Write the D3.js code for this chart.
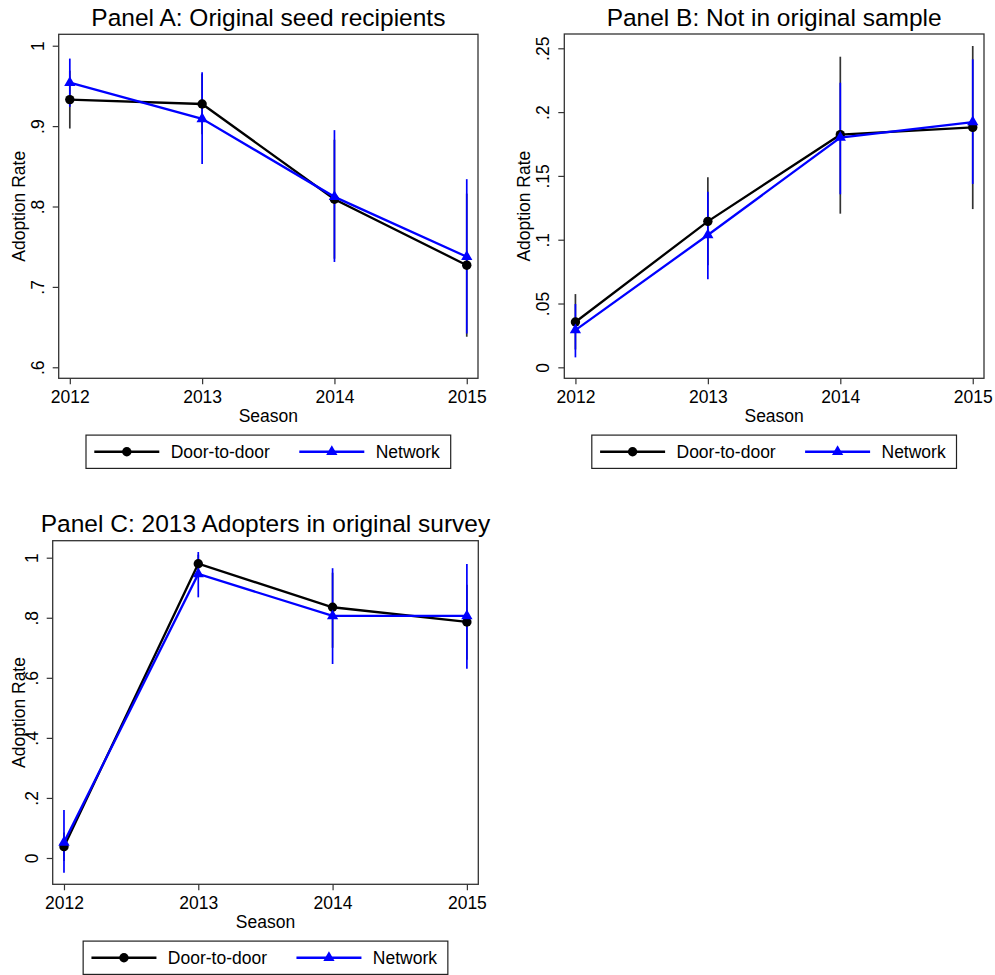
<!DOCTYPE html>
<html>
<head>
<meta charset="utf-8">
<script src="https://cdn.jsdelivr.net/npm/d3@7"></script>
<style>
  body { margin: 0; background: #fff; }
  svg text { font-family: "Liberation Sans", Arial, Helvetica, sans-serif; fill: #000; }
</style>
</head>
<body>
<svg id="chart" width="995" height="975"></svg>
<script>
// data
const seasons = [2012, 2013, 2014, 2015];
const seriesNames = ['Door-to-door', 'Network'];

// Panel A
const doorA = [0.933, 0.9275, 0.809, 0.727];
const doorALo = [0.897, 0.890, 0.735, 0.638];
const doorAHi = [0.969, 0.965, 0.883, 0.816];
const netA = [0.954, 0.909, 0.812, 0.7375];
const netALo = [0.924, 0.853, 0.731, 0.642];
const netAHi = [0.984, 0.967, 0.895, 0.834];
const ticksA = [0.6, 0.7, 0.8, 0.9, 1];
const tickLabelsA = ['.6', '.7', '.8', '.9', '1'];

// Panel B
const doorB = [0.0355, 0.1144, 0.1823, 0.188];
const doorBLo = [0.014, 0.080, 0.1204, 0.124];
const doorBHi = [0.0574, 0.149, 0.2434, 0.2518];
const netB = [0.0292, 0.1037, 0.180, 0.1922];
const netBLo = [0.0078, 0.069, 0.1356, 0.1437];
const netBHi = [0.0496, 0.1376, 0.223, 0.2414];
const ticksB = [0, 0.05, 0.1, 0.15, 0.2, 0.25];
const tickLabelsB = ['0', '.05', '.1', '.15', '.2', '.25'];

// Panel C
const doorC = [0.0377, 0.980, 0.835, 0.786];
const doorCLo = [-0.010, 0.950, 0.700, 0.660];
const doorCHi = [0.085, 1.010, 0.950, 0.910];
const netC = [0.052, 0.9457, 0.806, 0.806];
const netCLo = [-0.049, 0.868, 0.646, 0.630];
const netCHi = [0.160, 1.019, 0.965, 0.979];
const ticksC = [0, 0.2, 0.4, 0.6, 0.8, 1];
const tickLabelsC = ['0', '.2', '.4', '.6', '.8', '1'];

const svg = d3.select('#chart');

const panels = [
  {title: 'Panel A: Original seed recipients', x0: 58.7, x1: 478, y0: 34.3, y1: 378.3,
   yDom: [0.5863, 1.0142], ticks: ticksA, labels: tickLabelsA, yTitleOff: 34,
   door: doorA, doorLo: doorALo, doorHi: doorAHi, net: netA, netLo: netALo, netHi: netAHi},
  {title: 'Panel B: Not in original sample', x0: 564.3, x1: 984, y0: 34, y1: 378.3,
   yDom: [-0.0086, 0.2612], ticks: ticksB, labels: tickLabelsB, yTitleOff: 34,
   door: doorB, doorLo: doorBLo, doorHi: doorBHi, net: netB, netLo: netBLo, netHi: netBHi},
  {title: 'Panel C: 2013 Adopters in original survey', x0: 52.7, x1: 478.3, y0: 540.7, y1: 884.3,
   yDom: [-0.0876, 1.0566], ticks: ticksC, labels: tickLabelsC, yTitleOff: 28,
   door: doorC, doorLo: doorCLo, doorHi: doorCHi, net: netC, netLo: netCLo, netHi: netCHi}
];

const BLUE = '#0000ff';
const FS = 17.5;

function drawPanel(p) {
  const g = svg.append('g');
  const x = d3.scaleLinear().domain([2011.916, 2015.085]).range([p.x0, p.x1]);
  const y = d3.scaleLinear().domain(p.yDom).range([p.y1, p.y0]);
  const cx = (p.x0 + p.x1) / 2;

  // frame
  g.append('rect')
    .attr('x', p.x0).attr('y', p.y0)
    .attr('width', p.x1 - p.x0).attr('height', p.y1 - p.y0)
    .attr('fill', 'none').attr('stroke', '#333').attr('stroke-width', 1.3);

  // y axis
  const yAxis = g.append('g').attr('transform', `translate(${p.x0},0)`)
    .call(d3.axisLeft(y).tickValues(p.ticks).tickSize(6).tickFormat((d, i) => p.labels[i]));
  yAxis.select('.domain').remove();
  yAxis.selectAll('.tick line').attr('stroke', '#333').attr('stroke-width', 1.2);
  yAxis.selectAll('.tick text')
    .attr('x', null).attr('dy', null)
    .attr('text-anchor', 'middle')
    .attr('font-size', FS)
    .attr('transform', 'translate(-15,0) rotate(-90)');

  // x axis
  const xAxis = g.append('g').attr('transform', `translate(0,${p.y1})`)
    .call(d3.axisBottom(x).tickValues(seasons).tickSize(6).tickFormat(d3.format('d')));
  xAxis.select('.domain').remove();
  xAxis.selectAll('.tick line').attr('stroke', '#333').attr('stroke-width', 1.2);
  xAxis.selectAll('.tick text').attr('y', 25).attr('dy', null).attr('font-size', FS);

  // titles
  g.append('text').attr('x', cx).attr('y', p.y0 - 8.5)
    .attr('text-anchor', 'middle').attr('font-size', 24.5).text(p.title);
  g.append('text').attr('x', cx).attr('y', p.y1 + 43.4)
    .attr('text-anchor', 'middle').attr('font-size', FS).text('Season');
  g.append('text')
    .attr('transform', `translate(${p.x0 - p.yTitleOff},${(p.y0 + p.y1) / 2}) rotate(-90)`)
    .attr('text-anchor', 'middle').attr('font-size', FS).text('Adoption Rate');

  // confidence spikes
  const spikes = (lo, hi, color) => g.append('g').selectAll('line')
    .data(seasons).enter().append('line')
    .attr('x1', d => x(d)).attr('x2', d => x(d))
    .attr('y1', (d, i) => y(lo[i])).attr('y2', (d, i) => y(hi[i]))
    .attr('stroke', color).attr('stroke-width', 1.7);
  spikes(p.doorLo, p.doorHi, '#333');
  spikes(p.netLo, p.netHi, BLUE);

  const line = vals => d3.line().x(d => x(d)).y((d, i) => y(vals[i]))(seasons);

  g.append('path').attr('d', line(p.door)).attr('fill', 'none')
    .attr('stroke', '#000').attr('stroke-width', 2.3);
  g.append('g').selectAll('circle').data(seasons).enter().append('circle')
    .attr('cx', d => x(d)).attr('cy', (d, i) => y(p.door[i])).attr('r', 4.7).attr('fill', '#000');

  g.append('path').attr('d', line(p.net)).attr('fill', 'none')
    .attr('stroke', BLUE).attr('stroke-width', 2.3);
  const tri = d3.symbol().type(d3.symbolTriangle).size(55);
  g.append('g').selectAll('path').data(seasons).enter().append('path')
    .attr('d', tri).attr('fill', BLUE)
    .attr('transform', (d, i) => `translate(${x(d)},${y(p.net[i])})`);

  // legend
  const lw = 364.7, lh = 33.3;
  const lx = cx - lw / 2, ly = p.y1 + 56.8;
  const lg = g.append('g').attr('transform', `translate(${lx},${ly})`);
  lg.append('rect').attr('width', lw).attr('height', lh)
    .attr('fill', '#fff').attr('stroke', '#222').attr('stroke-width', 1.2);
  const items = [
    {name: seriesNames[0], color: '#000', sym: 'circle', x: 8.3},
    {name: seriesNames[1], color: BLUE, sym: 'tri', x: 213.3}
  ];
  items.forEach(it => {
    const my = lh / 2;
    lg.append('line').attr('x1', it.x).attr('x2', it.x + 65).attr('y1', my).attr('y2', my)
      .attr('stroke', it.color).attr('stroke-width', 2.3);
    if (it.sym === 'circle') {
      lg.append('circle').attr('cx', it.x + 32.5).attr('cy', my).attr('r', 4.7).attr('fill', it.color);
    } else {
      lg.append('path').attr('d', tri).attr('fill', it.color)
        .attr('transform', `translate(${it.x + 32.5},${my})`);
    }
    lg.append('text').attr('x', it.x + 76.4).attr('y', my + 6.2).attr('font-size', FS).text(it.name);
  });
}

panels.forEach(drawPanel);
</script>
</body>
</html>
